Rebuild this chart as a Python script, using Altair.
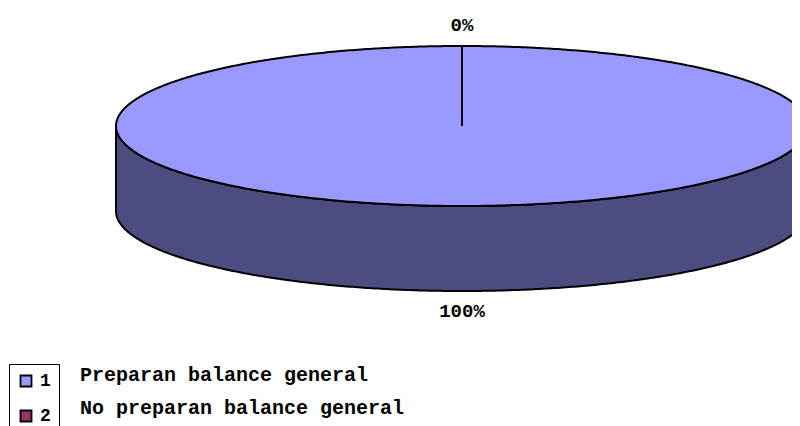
import altair as alt
import numpy as np
import pandas as pd

# ---- data ----
categories = ["1", "2"]
descriptions = ["Preparan balance general", "No preparan balance general"]
values = [100, 0]
top_colors = ["#9999FF", "#993366"]
side_colors = ["#4C4C80", "#4C1933"]

# ---- layout (chart coordinates, plot area origin at page (8, 8)) ----
W, H = 784, 418
CX, CY, RX, RY, DEPTH = 454, 118, 346, 80, 85
LABEL_OFF = 22
FONT = "Liberation Mono"

total = float(sum(values))
frac = np.array(values, dtype=float) / total
ends = np.cumsum(frac) * 360.0
starts = ends - frac * 360.0


def pt(theta_deg, drop=0.0):
    t = np.radians(theta_deg)
    return CX + RX * np.sin(t), CY - RY * np.cos(t) + drop


top_rows, side_rows, label_rows = [], [], []
for i, cat in enumerate(categories):
    a0, a1 = starts[i], ends[i]
    n = max(2, int(abs(a1 - a0) * 2) + 1)
    th = np.linspace(a0, a1, n)
    pts = [(CX, CY)] + [pt(t) for t in th] + [(CX, CY)]
    for k, (x, y) in enumerate(pts):
        top_rows.append(dict(cat=cat, k=k, x=x, y=y))
    # visible front side (angles 90..270, clockwise from 12 o'clock)
    s0, s1 = max(a0, 90.0), min(a1, 270.0)
    if s1 > s0:
        th = np.linspace(s0, s1, int((s1 - s0) * 2) + 1)
        spts = [pt(t) for t in th] + [pt(t, DEPTH) for t in th[::-1]] + [pt(th[0])]
        for k, (x, y) in enumerate(spts):
            side_rows.append(dict(cat=cat, k=k, x=x, y=y, side=side_colors[i]))
    mid = (a0 + a1) / 2.0
    t = np.radians(mid)
    lx = CX + (RX + LABEL_OFF) * np.sin(t)
    ly = CY - (RY + LABEL_OFF) * np.cos(t) + (DEPTH - 2 if np.cos(t) < 0 else 1)
    label_rows.append(dict(cat=cat, x=lx, y=ly, txt=f"{frac[i]*100:.0f}%"))

desc_rows = [dict(cat=c, d=d, x=72, y=367 + 33 * i) for i, (c, d) in enumerate(zip(categories, descriptions))]

top_df = pd.DataFrame(top_rows)
side_df = pd.DataFrame(side_rows)
label_df = pd.DataFrame(label_rows)
desc_df = pd.DataFrame(desc_rows)

xs = alt.Scale(domain=[0, W], nice=False, zero=False)
ys = alt.Scale(domain=[0, H], nice=False, zero=False, reverse=True)

side = alt.Chart(side_df).mark_line(filled=True, clip=True, strokeWidth=2, stroke="black").encode(
    x=alt.X("x:Q", scale=xs, axis=None),
    y=alt.Y("y:Q", scale=ys, axis=None),
    color=alt.Color("side:N", scale=None, legend=None),
    detail="cat:N",
    order=alt.Order("k:Q"),
)

top = alt.Chart(top_df).mark_line(filled=True, clip=True, strokeWidth=2, stroke="black").encode(
    x=alt.X("x:Q", scale=xs, axis=None),
    y=alt.Y("y:Q", scale=ys, axis=None),
    color=alt.Color(
        "cat:N",
        scale=alt.Scale(domain=categories, range=top_colors),
        legend=alt.Legend(
            title=None,
            orient="none",
            legendX=1,
            legendY=356,
            strokeColor="black",
            fillColor="white",
            padding=8,
            symbolType="square",
            symbolSize=121,
            symbolStrokeColor="black",
            symbolStrokeWidth=1.8,
            symbolOpacity=1,
            labelFont=FONT,
            labelFontWeight="bold",
            labelFontSize=18,
            labelColor="black",
            labelOffset=5,
            rowPadding=15,
        ),
    ),
    detail="cat:N",
    order=alt.Order("k:Q"),
)

labels = alt.Chart(label_df).mark_text(
    font=FONT, fontWeight="bold", fontSize=19, color="black", baseline="middle", align="center"
).encode(
    x=alt.X("x:Q", scale=xs, axis=None),
    y=alt.Y("y:Q", scale=ys, axis=None),
    text="txt:N",
)

desc = alt.Chart(desc_df).mark_text(
    font=FONT, fontWeight="bold", fontSize=20, color="black", baseline="middle", align="left"
).encode(
    x=alt.X("x:Q", scale=xs, axis=None),
    y=alt.Y("y:Q", scale=ys, axis=None),
    text="d:N",
)

chart = (
    alt.layer(side, top, labels, desc)
    .resolve_scale(color="independent")
    .properties(width=W, height=H, padding=0, autosize=alt.AutoSizeParams(type="none"), background="white")
    .configure_view(stroke=None)
)

chart.save("out.html", embed_options={"renderer": "svg", "actions": False})
